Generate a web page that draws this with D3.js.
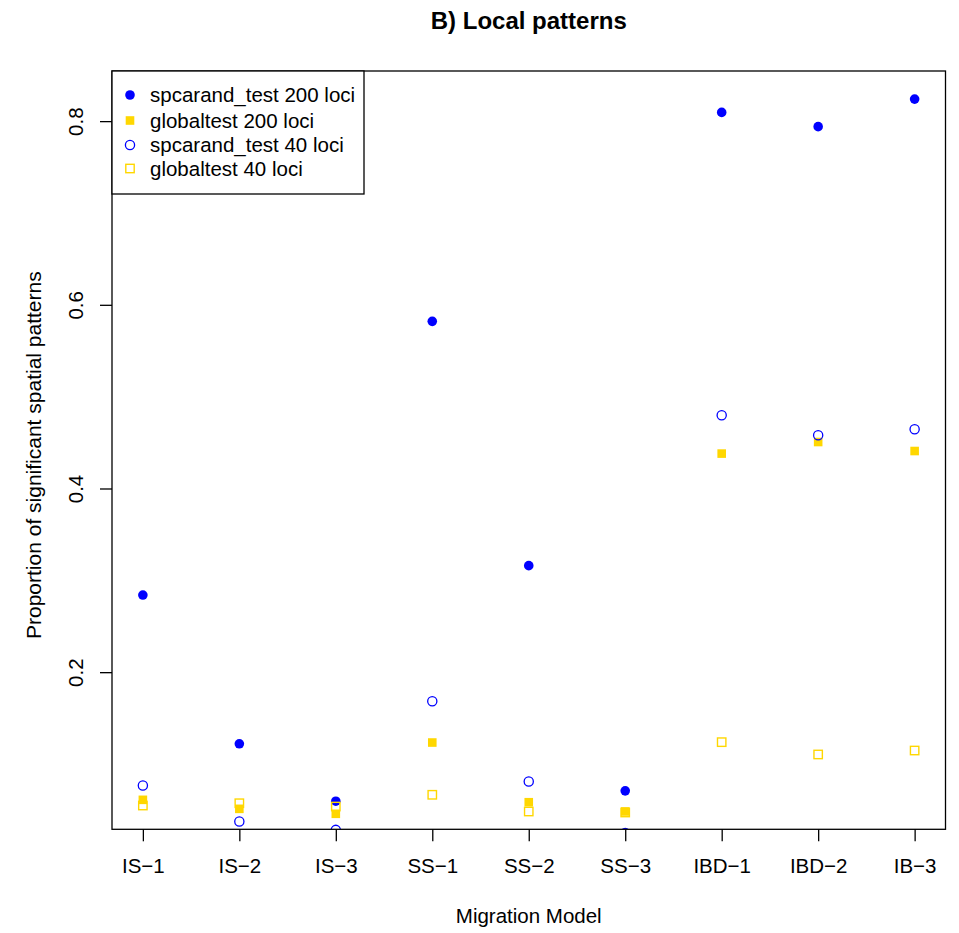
<!DOCTYPE html>
<html><head><meta charset="utf-8">
<script src="https://cdn.jsdelivr.net/npm/d3@7"></script>
<style>body{margin:0;background:#fff}svg{display:block}text{font-family:"Liberation Sans",Arial,sans-serif;fill:#000}</style>
</head><body>
<script>
const categories = ["IS\u22121","IS\u22122","IS\u22123","SS\u22121","SS\u22122","SS\u22123","IBD\u22121","IBD\u22122","IB\u22123"];
const spcarand200 = [0.284,0.122,0.0595,0.582,0.316,0.0708,0.8095,0.794,0.824];
const global200   = [0.061,0.0512,0.0458,0.1234,0.0584,0.0483,0.438,0.4506,0.4408];
const spcarand40  = [0.0766,0.0374,0.0283,0.1684,0.081,0.025,0.4797,0.4579,0.4645];
const global40    = [0.0548,0.0573,0.0537,0.0665,0.0483,0.0472,0.1238,0.1104,0.1147];
const yTicks = [0.2,0.4,0.6,0.8];
const legendLabels = ["spcarand_test 200 loci","globaltest 200 loci","spcarand_test 40 loci","globaltest 40 loci"];

const W=959,H=933;
const L=112,R=945.5,T=71,B=829.3;
const svg=d3.select("body").append("svg").attr("width",W).attr("height",H);

// R-style ylim from first series with 4% padding
const ymin=d3.min(spcarand200), ymax=d3.max(spcarand200), d=ymax-ymin;
const y=d3.scaleLinear().domain([ymin-0.04*d, ymax+0.04*d]).range([B,T]);
const x=d3.scaleLinear().domain([1-0.32,9+0.32]).range([L,R]);

svg.append("defs").append("clipPath").attr("id","clip")
  .append("rect").attr("x",L).attr("y",T).attr("width",R-L).attr("height",B-T);

const g=svg.append("g").attr("clip-path","url(#clip)");
const blue="#0000FF", gold="#FFD700";
const idx=d3.range(categories.length);

g.selectAll(".c200").data(idx).join("circle")
  .attr("cx",i=>x(i+1)).attr("cy",i=>y(spcarand200[i])).attr("r",4.8).attr("fill",blue);
const s1=8.6;
g.selectAll(".s200").data(idx).join("rect")
  .attr("x",i=>x(i+1)-s1/2).attr("y",i=>y(global200[i])-s1/2).attr("width",s1).attr("height",s1).attr("fill",gold);
g.selectAll(".c40").data(idx).join("circle")
  .attr("cx",i=>x(i+1)).attr("cy",i=>y(spcarand40[i])).attr("r",4.6).attr("fill","none").attr("stroke",blue).attr("stroke-width",1.3);
const s2=8.4;
g.selectAll(".s40").data(idx).join("rect")
  .attr("x",i=>x(i+1)-s2/2).attr("y",i=>y(global40[i])-s2/2).attr("width",s2).attr("height",s2).attr("fill","none").attr("stroke",gold).attr("stroke-width",1.4);

svg.append("rect").attr("x",L).attr("y",T).attr("width",R-L).attr("height",B-T).attr("fill","none").attr("stroke","#000").attr("stroke-width",1.3);

const xa=svg.append("g").attr("transform",`translate(0,${B})`)
  .call(d3.axisBottom(x).tickValues(d3.range(1,10)).tickFormat(v=>categories[v-1]).tickSize(12).tickSizeOuter(0).tickPadding(17));
xa.select(".domain").remove();
xa.selectAll("line").attr("stroke","#000").attr("stroke-width",1.3);
xa.selectAll("text").style("font-size","20.5px").attr("fill","#000");

const ya=svg.append("g").attr("transform",`translate(${L},0)`)
  .call(d3.axisLeft(y).tickValues(yTicks).tickFormat(d3.format(".1f")).tickSize(12).tickSizeOuter(0));
ya.select(".domain").remove();
ya.selectAll("line").attr("stroke","#000").attr("stroke-width",1.3);
ya.selectAll("text").style("font-size","20.5px").attr("fill","#000")
  .attr("x",null).attr("dy",null).attr("text-anchor","middle")
  .attr("transform","translate(-29,0) rotate(-90)");

svg.append("text").attr("x",(L+R)/2).attr("y",28.5).attr("text-anchor","middle")
  .style("font-size","24px").style("font-weight","bold").text("B) Local patterns");
svg.append("text").attr("x",(L+R)/2).attr("y",923).attr("text-anchor","middle")
  .style("font-size","20.5px").text("Migration Model");
svg.append("text").attr("transform",`translate(41,${(T+B)/2+5}) rotate(-90)`).attr("text-anchor","middle")
  .style("font-size","21px").text("Proportion of significant spatial patterns");

const lg=svg.append("g");
lg.append("rect").attr("x",L).attr("y",T).attr("width",252).attr("height",123).attr("fill","#fff").attr("stroke","#000").attr("stroke-width",1.3);
const rows=[95,120.5,145,168.5];
const lx=130;
lg.append("circle").attr("cx",lx).attr("cy",rows[0]).attr("r",4.8).attr("fill",blue);
lg.append("rect").attr("x",lx-s1/2).attr("y",rows[1]-s1/2).attr("width",s1).attr("height",s1).attr("fill",gold);
lg.append("circle").attr("cx",lx).attr("cy",rows[2]).attr("r",4.6).attr("fill","none").attr("stroke",blue).attr("stroke-width",1.3);
lg.append("rect").attr("x",lx-s2/2).attr("y",rows[3]-s2/2).attr("width",s2).attr("height",s2).attr("fill","none").attr("stroke",gold).attr("stroke-width",1.4);
lg.selectAll(".lt").data(legendLabels).join("text")
  .attr("x",150).attr("y",(dd,i)=>rows[i]+7).style("font-size","20.5px").text(dd=>dd);
</script>
</body></html>
